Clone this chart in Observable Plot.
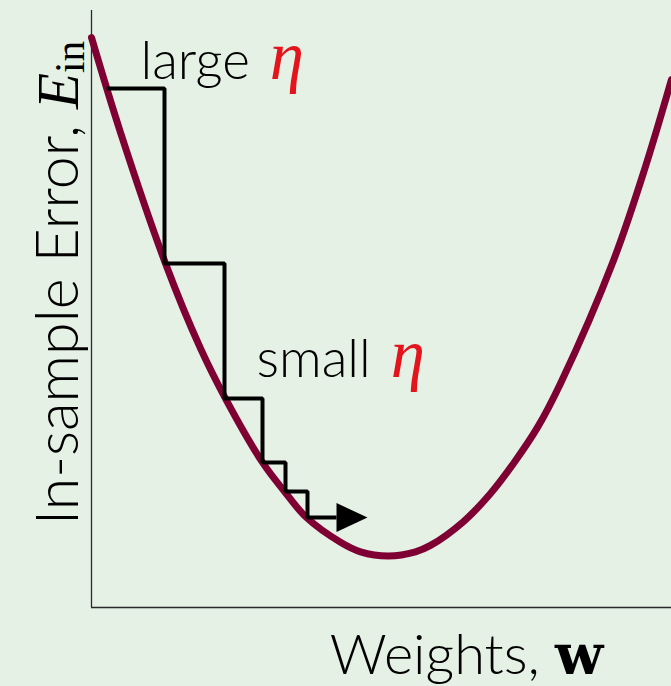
<!DOCTYPE html>
<html><head><meta charset="utf-8">
<script src="https://cdn.jsdelivr.net/npm/d3@7"></script>
<script src="https://cdn.jsdelivr.net/npm/@observablehq/plot@0.6"></script>
<style>
html,body{margin:0;padding:0;background:#e5f1e5;}
#chart svg{display:block;}
</style></head><body><div id="chart"></div>
<script>
// In-sample error curve E_in(w) (arbitrary units)
const curveW = [0, 1.45, 3.7, 5.45, 6.7, 8.55, 9.65, 10.75, 12.45, 13.45, 14.85, 16.2, 16.95, 18.6, 19.95, 21.1, 22.3, 23.45, 26.1, 27.7, 29];
const curveE = [28.64, 23.87, 17.29, 13.02, 10.5, 7.29, 5.83, 4.52, 3.28, 2.8, 2.59, 2.8, 3.12, 4.32, 5.73, 7.24, 9.05, 11.26, 17.44, 22.16, 26.53];
// gradient-descent iterates (step path)
const stepW = [0.75, 3.65, 6.65, 8.55, 9.7, 10.8, 12.25];
const stepE = [26.08, 17.29, 10.5, 7.29, 5.83, 4.52, 4.52];
// annotations
const annotationText = ["large η", "small η"];
const annotationW = [2.45, 8.25];
const annotationE = [26.58, 11.56];
// axis labels and domains
const xLabel = "Weights, w";
const yLabel = "In-sample Error, E_in";
const xDomain = [0, 29];
const yDomain = [0, 30];

const curve = curveW.map((w, i) => ({w, e: curveE[i]}));
const steps = stepW.map((w, i) => ({w, e: stepE[i]}));
const annotations = annotationText.map((t, i) => ({t, w: annotationW[i], e: annotationE[i]}));

const BG = "#e5f1e5";
const SANS = "Lato";
const arrowHead = {draw(ctx) { ctx.moveTo(0, -14.5); ctx.lineTo(31, 0); ctx.lineTo(0, 14.5); ctx.closePath(); }};

const chart = Plot.plot({
  width: 671, height: 686,
  marginLeft: 91, marginRight: 0, marginTop: 10, marginBottom: 79,
  x: {domain: xDomain, axis: null},
  y: {domain: yDomain, axis: null},
  style: {background: BG, fontFamily: SANS, overflow: "visible"},
  marks: [
    Plot.ruleX([xDomain[0]], {stroke: "#2a2a2a", strokeWidth: 1.3}),
    Plot.ruleY([yDomain[0]], {stroke: "#2a2a2a", strokeWidth: 1.3}),
    Plot.line(curve, {x: "w", y: "e", curve: "catmull-rom", stroke: "#7f0033", strokeWidth: 7}),
    Plot.line(steps, {x: "w", y: "e", curve: "step-after", stroke: "black", strokeWidth: 4, strokeLinejoin: "miter", strokeLinecap: "butt"}),
    Plot.dot([steps[steps.length - 1]], {x: "w", y: "e", symbol: arrowHead, r: 10, fill: "black", stroke: "none"}),
    Plot.text(annotations, {x: "w", y: "e", text: "t", textAnchor: "start", lineAnchor: "bottom", fontSize: 53, fill: "black", fontWeight: 300}),
    Plot.text([xLabel], {frameAnchor: "bottom", textAnchor: "middle", lineAnchor: "bottom", dx: 85, dy: 66, fontSize: 56, fontWeight: 300}),
    Plot.text([yLabel], {frameAnchor: "left", rotate: -90, textAnchor: "middle", lineAnchor: "bottom", dx: -14, dy: -26, fontSize: 59, fontWeight: 300})
  ]
});
document.getElementById("chart").appendChild(chart);

// rich text styling (math symbols)
function rich(el, parts) {
  const t = d3.select(el);
  t.text(null);
  for (const p of parts) {
    const ts = t.append("tspan").text(p.text);
    for (const [k, v] of Object.entries(p.attrs || {})) ts.attr(k, v);
  }
}
d3.select(chart).selectAll("text").each(function() {
  const s = this.textContent;
  if (s.includes("η")) {
    const [a] = s.split("η");
    rich(this, [{text: a}, {text: "η", attrs: {fill: "#e3141c", "font-family": "'Liberation Serif', serif", "font-style": "italic", "font-weight": 400, "font-size": "1.3em", dx: "0.08em"}}]);
  } else if (s === xLabel) {
    rich(this, [{text: "Weights, "}, {text: "w", attrs: {"font-family": "'DejaVu Serif', serif", "font-weight": "bold"}}]);
  } else if (s === yLabel) {
    rich(this, [{text: "In-sample Error, "},
      {text: "E", attrs: {"font-family": "'Liberation Serif', serif", "font-style": "italic", "font-weight": 400}},
      {text: "in", attrs: {"font-family": "'Liberation Serif', serif", "font-weight": 400, "font-size": "0.7em", dy: "0.15em"}}]);
  }
});
</script></body></html>
